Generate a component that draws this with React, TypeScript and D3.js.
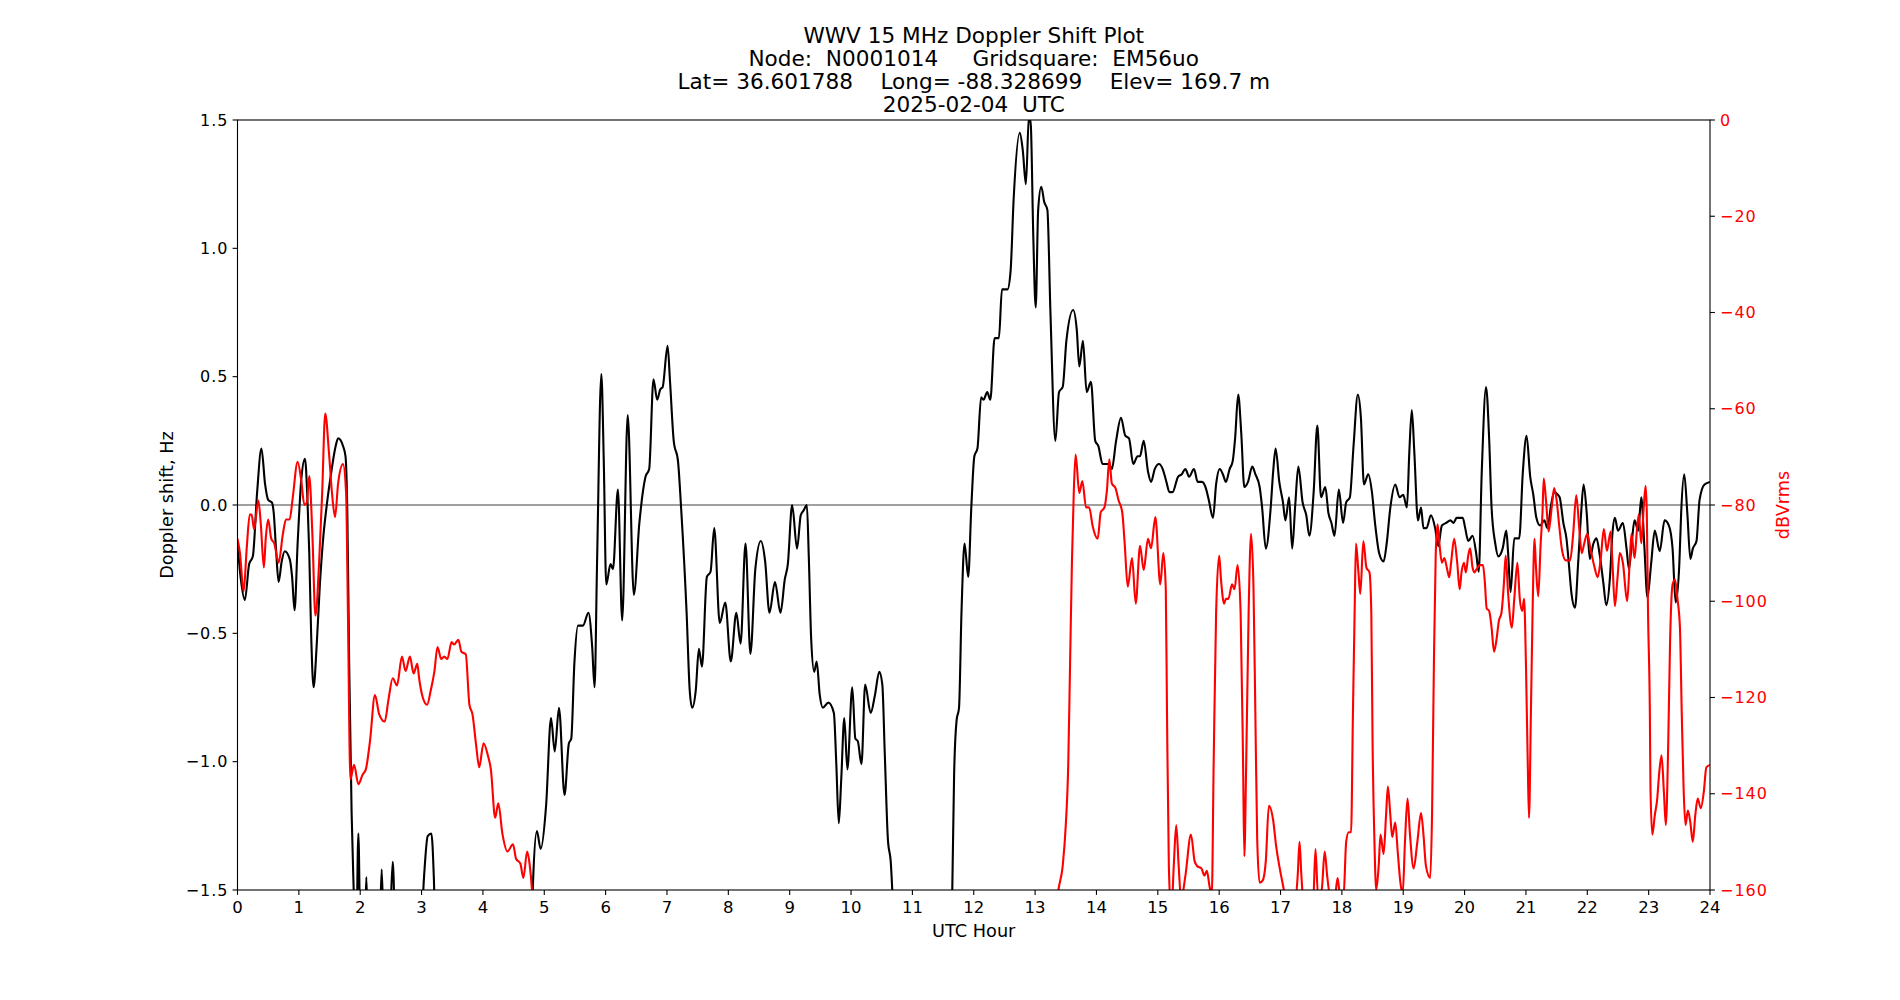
import React, { useEffect } from "react";
import * as d3 from "d3";

// WWV 15 MHz Doppler shift (Hz) vs UTC hour
const dopplerPts: [number, number][] = [
  [0.00,-0.15],[0.05,-0.28],[0.12,-0.37],[0.19,-0.23],[0.25,-0.20],[0.32,0.05],[0.39,0.22],[0.45,0.08],[0.50,0.02],[0.56,0.01],
  [0.59,-0.03],[0.63,-0.18],[0.67,-0.30],[0.72,-0.22],[0.77,-0.18],[0.85,-0.21],[0.89,-0.28],[0.93,-0.41],[0.98,-0.15],[1.04,0.10],
  [1.10,0.18],[1.14,0.02],[1.17,-0.19],[1.20,-0.50],[1.24,-0.71],[1.29,-0.55],[1.34,-0.32],[1.40,-0.12],[1.45,-0.01],[1.53,0.13],
  [1.60,0.23],[1.64,0.26],[1.72,0.23],[1.76,0.19],[1.79,-0.03],[1.82,-0.62],[1.86,-1.20],[1.90,-1.55],[1.93,-1.8],[1.97,-1.28],
  [2.01,-1.8],[2.07,-1.7],[2.10,-1.45],[2.13,-1.7],[2.31,-1.7],[2.35,-1.42],[2.39,-1.7],[2.48,-1.65],[2.53,-1.39],[2.58,-1.7],
  [2.98,-1.7],[3.04,-1.45],[3.10,-1.29],[3.16,-1.28],[3.20,-1.45],[3.24,-1.8],[4.78,-1.8],[4.82,-1.45],[4.88,-1.27],[4.94,-1.34],
  [5.03,-1.17],[5.11,-0.83],[5.17,-0.96],[5.24,-0.79],[5.33,-1.13],[5.40,-0.93],[5.44,-0.91],[5.49,-0.62],[5.55,-0.47],[5.63,-0.47],
  [5.72,-0.42],[5.78,-0.55],[5.82,-0.71],[5.86,-0.23],[5.93,0.51],[5.97,0.17],[6.01,-0.31],[6.08,-0.23],[6.12,-0.25],[6.20,0.06],
  [6.27,-0.45],[6.36,0.35],[6.46,-0.35],[6.55,-0.07],[6.65,0.11],[6.71,0.14],[6.78,0.49],[6.84,0.41],[6.89,0.45],[6.93,0.46],
  [7.01,0.62],[7.05,0.48],[7.11,0.25],[7.18,0.17],[7.23,-0.01],[7.32,-0.42],[7.37,-0.72],[7.41,-0.79],[7.47,-0.72],[7.52,-0.56],
  [7.57,-0.63],[7.65,-0.28],[7.71,-0.26],[7.77,-0.09],[7.86,-0.46],[7.95,-0.38],[8.04,-0.61],[8.13,-0.42],[8.20,-0.54],[8.28,-0.15],
  [8.36,-0.58],[8.44,-0.25],[8.53,-0.14],[8.60,-0.22],[8.67,-0.42],[8.76,-0.30],[8.85,-0.42],[8.92,-0.29],[8.97,-0.23],[9.04,0.0],
  [9.12,-0.17],[9.18,-0.04],[9.23,-0.02],[9.28,0.0],[9.31,-0.19],[9.35,-0.52],[9.40,-0.65],[9.44,-0.61],[9.49,-0.74],[9.54,-0.79],
  [9.63,-0.77],[9.72,-0.81],[9.76,-1.01],[9.80,-1.24],[9.84,-1.07],[9.89,-0.83],[9.94,-1.03],[10.02,-0.71],[10.07,-0.91],[10.11,-0.92],
  [10.17,-1.01],[10.23,-0.70],[10.32,-0.81],[10.39,-0.74],[10.46,-0.65],[10.51,-0.70],[10.55,-0.97],[10.60,-1.30],[10.65,-1.40],[10.68,-1.55],
  [10.72,-1.9],[11.60,-1.9],[11.65,-1.5],[11.68,-1.05],[11.72,-0.84],[11.76,-0.79],[11.80,-0.42],[11.85,-0.15],[11.91,-0.28],[11.96,-0.01],
  [12.01,0.19],[12.06,0.22],[12.12,0.42],[12.16,0.41],[12.22,0.44],[12.27,0.41],[12.34,0.65],[12.41,0.65],[12.46,0.84],[12.55,0.84],
  [12.60,0.91],[12.65,1.19],[12.75,1.45],[12.80,1.38],[12.85,1.25],[12.90,1.52],[12.93,1.48],[12.97,1.05],[13.01,0.77],[13.05,1.15],
  [13.10,1.24],[13.15,1.18],[13.20,1.15],[13.25,0.75],[13.33,0.25],[13.39,0.44],[13.45,0.46],[13.51,0.64],[13.62,0.76],[13.68,0.68],
  [13.72,0.54],[13.78,0.64],[13.84,0.44],[13.91,0.48],[13.98,0.25],[14.03,0.23],[14.10,0.16],[14.20,0.16],[14.25,0.14],[14.32,0.25],
  [14.40,0.34],[14.47,0.27],[14.53,0.26],[14.60,0.16],[14.67,0.19],[14.71,0.19],[14.77,0.25],[14.84,0.13],[14.89,0.09],[14.95,0.14],
  [15.02,0.16],[15.08,0.14],[15.14,0.09],[15.19,0.05],[15.24,0.05],[15.33,0.11],[15.39,0.12],[15.45,0.14],[15.51,0.11],[15.59,0.14],
  [15.65,0.09],[15.72,0.09],[15.79,0.06],[15.83,0.02],[15.90,-0.05],[15.95,0.08],[16.01,0.14],[16.06,0.12],[16.11,0.09],[16.17,0.14],
  [16.22,0.17],[16.26,0.26],[16.31,0.43],[16.36,0.28],[16.41,0.07],[16.47,0.09],[16.54,0.15],[16.59,0.12],[16.66,0.07],[16.70,-0.01],
  [16.76,-0.17],[16.84,-0.01],[16.88,0.13],[16.92,0.22],[16.98,0.09],[17.04,0.01],[17.08,-0.06],[17.14,0.03],[17.19,-0.17],[17.24,0.0],
  [17.29,0.15],[17.36,0.01],[17.42,-0.04],[17.47,-0.12],[17.54,0.05],[17.60,0.31],[17.66,0.03],[17.73,0.07],[17.78,-0.03],[17.83,-0.07],
  [17.88,-0.12],[17.95,0.06],[18.02,-0.07],[18.07,0.01],[18.13,0.03],[18.19,0.23],[18.26,0.43],[18.31,0.34],[18.36,0.08],[18.43,0.12],
  [18.49,0.05],[18.54,-0.07],[18.61,-0.19],[18.68,-0.22],[18.73,-0.15],[18.79,-0.01],[18.87,0.08],[18.94,0.03],[19.00,0.04],[19.06,-0.01],
  [19.10,0.21],[19.14,0.37],[19.18,0.21],[19.24,-0.06],[19.29,-0.01],[19.33,-0.09],[19.38,-0.09],[19.45,-0.04],[19.52,-0.09],[19.57,-0.16],
  [19.63,-0.08],[19.70,-0.07],[19.77,-0.06],[19.82,-0.07],[19.87,-0.05],[19.97,-0.05],[20.01,-0.09],[20.06,-0.14],[20.13,-0.12],[20.19,-0.19],
  [20.23,-0.26],[20.28,0.13],[20.35,0.46],[20.40,0.26],[20.44,-0.01],[20.50,-0.15],[20.55,-0.20],[20.62,-0.17],[20.68,-0.10],[20.71,-0.19],
  [20.75,-0.34],[20.81,-0.13],[20.89,-0.13],[20.95,0.13],[21.01,0.27],[21.07,0.11],[21.12,0.04],[21.17,-0.05],[21.23,-0.08],[21.30,-0.06],
  [21.35,-0.09],[21.41,0.0],[21.46,0.05],[21.52,0.04],[21.55,0.03],[21.61,-0.07],[21.66,-0.13],[21.70,-0.23],[21.74,-0.34],[21.80,-0.40],
  [21.85,-0.23],[21.90,-0.03],[21.94,0.08],[21.99,-0.03],[22.04,-0.21],[22.10,-0.15],[22.15,-0.13],[22.20,-0.19],[22.26,-0.30],[22.31,-0.39],
  [22.37,-0.28],[22.41,-0.11],[22.45,-0.05],[22.50,-0.10],[22.58,-0.07],[22.64,-0.17],[22.68,-0.25],[22.72,-0.16],[22.77,-0.06],[22.83,-0.10],
  [22.88,0.03],[22.93,-0.16],[22.98,-0.36],[23.04,-0.23],[23.10,-0.10],[23.18,-0.18],[23.26,-0.06],[23.33,-0.08],[23.39,-0.17],[23.44,-0.38],
  [23.50,-0.23],[23.53,-0.03],[23.58,0.12],[23.63,-0.03],[23.68,-0.21],[23.72,-0.17],[23.78,-0.14],[23.83,0.02],[23.91,0.08],[24.00,0.09],
];

// received level (dBVrms) vs UTC hour
const levelPts: [number, number][] = [
  [0.00,-87],[0.04,-90],[0.10,-98],[0.15,-89],[0.20,-82],[0.23,-82],[0.27,-85],[0.34,-79],[0.38,-84],[0.43,-93],
  [0.46,-87],[0.50,-83],[0.55,-87],[0.60,-88],[0.67,-92],[0.74,-86],[0.79,-83],[0.85,-83],[0.90,-78.5],[0.98,-71],
  [1.04,-75],[1.09,-80],[1.13,-79.5],[1.17,-74],[1.22,-86],[1.27,-103],[1.33,-92],[1.38,-77.5],[1.43,-61],[1.49,-69],
  [1.54,-77.5],[1.59,-82.5],[1.64,-75.5],[1.72,-71.5],[1.77,-77.5],[1.80,-102.5],[1.84,-137],[1.90,-134],[1.97,-138],[2.04,-136],
  [2.09,-135],[2.16,-129],[2.24,-119.5],[2.31,-123.5],[2.40,-125],[2.46,-120.5],[2.53,-116],[2.60,-117.5],[2.68,-111.5],[2.74,-114.5],
  [2.81,-111.5],[2.87,-115],[2.93,-113],[2.96,-116],[3.02,-120],[3.09,-121.5],[3.15,-118.5],[3.21,-114.5],[3.26,-109.5],[3.32,-112],
  [3.37,-111.5],[3.42,-112],[3.49,-108.5],[3.53,-109],[3.60,-108],[3.65,-110.5],[3.72,-111],[3.78,-121.5],[3.83,-123.5],[3.89,-130],
  [3.94,-134.5],[4.01,-129.5],[4.08,-132],[4.13,-135],[4.20,-145],[4.25,-142],[4.32,-148.5],[4.40,-152],[4.49,-150.5],[4.54,-153.5],
  [4.61,-154.5],[4.66,-157.5],[4.72,-152],[4.76,-154.5],[4.80,-160],[4.84,-170],[13.30,-170],[13.38,-160],[13.45,-155],[13.50,-146.5],
  [13.54,-134],[13.57,-113],[13.60,-92],[13.63,-77.5],[13.66,-69.5],[13.72,-77.5],[13.77,-75],[13.83,-80.5],[13.88,-80.5],[13.94,-84.5],
  [14.02,-87],[14.07,-81.5],[14.13,-80.5],[14.17,-77],[14.21,-70.5],[14.25,-75.5],[14.31,-76.5],[14.36,-79],[14.42,-81.5],[14.46,-88],
  [14.51,-97],[14.58,-91],[14.64,-100.5],[14.71,-88.5],[14.77,-93.5],[14.84,-87],[14.89,-89],[14.96,-82.5],[15.04,-96.5],[15.09,-90],
  [15.13,-97.5],[15.15,-123.5],[15.18,-155],[15.22,-165],[15.26,-155],[15.30,-146.5],[15.34,-155],[15.38,-162],[15.45,-157],[15.54,-148.5],
  [15.60,-154],[15.64,-155],[15.71,-155.5],[15.76,-157],[15.80,-156],[15.84,-159],[15.88,-161],[15.91,-134],[15.95,-102.5],[16.00,-90.5],
  [16.03,-95.5],[16.08,-100.5],[16.11,-99.5],[16.15,-99.5],[16.21,-96.5],[16.25,-97.5],[16.30,-92.5],[16.35,-102.5],[16.39,-134],[16.41,-153],
  [16.44,-134],[16.48,-102.5],[16.52,-86],[16.56,-97.5],[16.59,-123.5],[16.62,-149.5],[16.66,-158.5],[16.71,-158],[16.76,-154],[16.81,-142.5],
  [16.88,-145.5],[16.93,-151],[16.98,-155],[17.04,-159],[17.09,-162],[17.23,-163],[17.28,-157],[17.31,-150],[17.34,-157],[17.38,-163],
  [17.53,-163],[17.57,-151.5],[17.61,-161],[17.67,-160],[17.72,-152],[17.76,-157],[17.82,-162],[17.88,-162],[17.93,-157.5],[17.97,-161],
  [18.03,-160.5],[18.07,-150],[18.11,-148],[18.15,-148],[18.18,-123.5],[18.21,-100.5],[18.23,-88],[18.27,-94],[18.30,-98.5],[18.35,-87.5],
  [18.40,-93],[18.45,-94],[18.48,-102.5],[18.50,-129],[18.53,-149.5],[18.56,-160],[18.60,-155],[18.63,-148.5],[18.68,-152.5],[18.72,-144.5],
  [18.75,-138.5],[18.79,-144.5],[18.82,-149],[18.87,-146],[18.91,-152],[18.95,-158],[18.99,-161],[19.03,-149.5],[19.07,-141],[19.11,-148.5],
  [19.17,-155.5],[19.23,-150],[19.29,-144],[19.33,-148.5],[19.37,-155],[19.44,-157.5],[19.47,-144],[19.50,-113],[19.53,-90],[19.56,-84],
  [19.59,-88],[19.63,-92],[19.67,-91],[19.71,-93],[19.75,-95],[19.78,-92],[19.83,-87],[19.88,-92],[19.92,-97.5],[19.95,-94],
  [19.99,-92],[20.02,-94],[20.06,-90.5],[20.09,-89],[20.13,-93],[20.16,-94],[20.21,-93],[20.25,-92.5],[20.30,-92.5],[20.33,-96],
  [20.36,-101.5],[20.40,-102],[20.44,-105.5],[20.48,-110.5],[20.52,-108],[20.56,-104],[20.60,-102.5],[20.64,-96.5],[20.67,-90.5],[20.71,-98.5],
  [20.77,-105.5],[20.81,-99.5],[20.86,-92],[20.90,-99.5],[20.94,-102],[20.97,-99.5],[21.00,-113],[21.03,-134],[21.05,-145],[21.08,-124],
  [21.11,-101],[21.14,-87],[21.16,-92],[21.20,-99],[21.24,-88],[21.27,-81.5],[21.29,-74.5],[21.33,-79.5],[21.37,-85.5],[21.42,-80.5],
  [21.46,-76.5],[21.50,-79],[21.54,-84],[21.59,-89.5],[21.65,-91.5],[21.72,-91.5],[21.77,-86],[21.82,-78],[21.87,-85],[21.91,-90],
  [21.95,-88],[22.00,-86],[22.05,-89],[22.11,-92.5],[22.17,-95],[22.22,-91],[22.27,-85],[22.32,-89.5],[22.38,-85.5],[22.41,-92],
  [22.45,-101],[22.49,-95.5],[22.53,-90],[22.58,-92],[22.65,-100],[22.69,-92],[22.72,-86],[22.77,-91],[22.81,-85],[22.84,-82],
  [22.88,-88],[22.92,-80.5],[22.95,-76],[22.97,-81.5],[22.99,-102.5],[23.02,-123.5],[23.03,-139],[23.06,-148.5],[23.10,-144.5],[23.14,-141],
  [23.17,-136],[23.21,-132],[23.25,-140],[23.28,-146.5],[23.32,-129],[23.35,-108],[23.39,-96.5],[23.43,-95.5],[23.47,-99.5],[23.51,-105.5],
  [23.54,-123.5],[23.57,-139],[23.60,-146.5],[23.64,-143.5],[23.68,-146],[23.72,-150],[23.76,-144.5],[23.80,-141],[23.85,-143],[23.90,-139.5],
  [23.94,-134.5],[24.00,-134],
];

const hourTicks = d3.range(0, 25);
const hzTicks = [-1.5, -1.0, -0.5, 0.0, 0.5, 1.0, 1.5];
const dbTicks = [0, -20, -40, -60, -80, -100, -120, -140, -160];

const titleLines = [
  "WWV 15 MHz Doppler Shift Plot",
  "Node:  N0001014     Gridsquare:  EM56uo",
  "Lat= 36.601788    Long= -88.328699    Elev= 169.7 m",
  "2025-02-04  UTC",
];

const W = 1900;
const H = 1000;
const m = { left: 237.5, right: 1710, top: 120, bottom: 890 };
const font = "DejaVu Sans, sans-serif";
const minus = (s: string) => s.replace("-", "\u2212");

export default function App() {
  useEffect(() => {
    document.body.style.margin = "0";
  }, []);

  const x = d3.scaleLinear().domain([0, 24]).range([m.left, m.right]);
  const yHz = d3.scaleLinear().domain([-1.5, 1.5]).range([m.bottom, m.top]);
  const yDb = d3.scaleLinear().domain([-160, 0]).range([m.bottom, m.top]);

  const hzLine = d3
    .line<[number, number]>()
    .x((d) => x(d[0]))
    .y((d) => yHz(d[1]))
    .curve(d3.curveMonotoneX);
  const dbLine = d3
    .line<[number, number]>()
    .x((d) => x(d[0]))
    .y((d) => yDb(d[1]))
    .curve(d3.curveMonotoneX);

  const tick = 4.9;

  return (
    <svg width={W} height={H} style={{ display: "block", background: "#fff" }}>
      <defs>
        <clipPath id="plot">
          <rect x={m.left} y={m.top} width={m.right - m.left} height={m.bottom - m.top} />
        </clipPath>
      </defs>

      {/* title */}
      {titleLines.map((t, i) => (
        <text
          key={i}
          x={(m.left + m.right) / 2}
          y={42.5 + i * 23.2}
          textAnchor="middle"
          fontFamily={font}
          fontSize={21.6}
          style={{ whiteSpace: "pre" }}
        >
          {t}
        </text>
      ))}

      <g clipPath="url(#plot)">
        <line x1={m.left} x2={m.right} y1={yHz(0)} y2={yHz(0)} stroke="#808080" strokeWidth={1.4} />
        <path d={hzLine(dopplerPts) ?? ""} fill="none" stroke="#000" strokeWidth={2.1} strokeLinejoin="round" />
        <path d={dbLine(levelPts) ?? ""} fill="none" stroke="#ff0000" strokeWidth={2.1} strokeLinejoin="round" />
      </g>

      {/* frame */}
      <rect
        x={m.left}
        y={m.top}
        width={m.right - m.left}
        height={m.bottom - m.top}
        fill="none"
        stroke="#000"
        strokeWidth={1.1}
      />

      {/* x axis */}
      {hourTicks.map((h) => (
        <g key={h}>
          <line x1={x(h)} x2={x(h)} y1={m.bottom} y2={m.bottom + tick} stroke="#000" strokeWidth={1.1} />
          <text x={x(h)} y={m.bottom + 23} textAnchor="middle" fontFamily={font} fontSize={16.5}>
            {h}
          </text>
        </g>
      ))}
      <text x={(m.left + m.right) / 2} y={937} textAnchor="middle" fontFamily={font} fontSize={17.7}>
        UTC Hour
      </text>

      {/* left axis */}
      {hzTicks.map((v) => (
        <g key={v}>
          <line x1={m.left - tick} x2={m.left} y1={yHz(v)} y2={yHz(v)} stroke="#000" strokeWidth={1.1} />
          <text
            x={m.left - 9}
            y={yHz(v)}
            dy="0.35em"
            textAnchor="end"
            fontFamily={font}
            fontSize={16}
            letterSpacing={1}
          >
            {minus(v.toFixed(1))}
          </text>
        </g>
      ))}
      <text
        transform={`translate(173,${(m.top + m.bottom) / 2}) rotate(-90)`}
        textAnchor="middle"
        fontFamily={font}
        fontSize={17.7}
      >
        Doppler shift, Hz
      </text>

      {/* right axis */}
      {dbTicks.map((v) => (
        <g key={v}>
          <line x1={m.right} x2={m.right + tick} y1={yDb(v)} y2={yDb(v)} stroke="#000" strokeWidth={1.1} />
          <text
            x={m.right + 10}
            y={yDb(v)}
            dy="0.35em"
            fontFamily={font}
            fontSize={16}
            letterSpacing={1}
            fill="#ff0000"
          >
            {minus(String(v))}
          </text>
        </g>
      ))}
      <text
        transform={`translate(1789,${(m.top + m.bottom) / 2}) rotate(-90)`}
        textAnchor="middle"
        fontFamily={font}
        fontSize={17.7}
        fill="#ff0000"
      >
        dBVrms
      </text>
    </svg>
  );
}
